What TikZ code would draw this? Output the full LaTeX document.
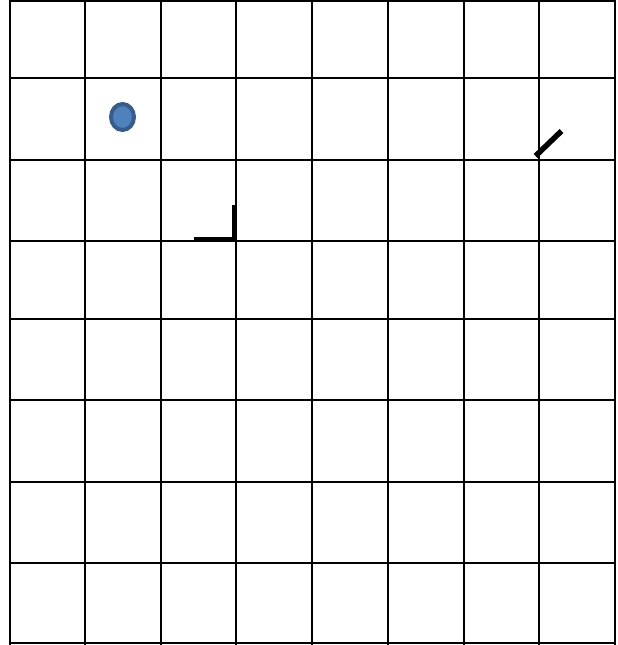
\documentclass[tikz,border=0pt]{standalone}
\begin{document}
\begin{tikzpicture}[x=1pt,y=-1pt,
  gridline/.style={line width=2pt,black},
  markstroke/.style={line width=5.5pt,black},
  dot/.style={draw={rgb,255:red,56;green,93;blue,138},line width=4pt,fill={rgb,255:red,79;green,129;blue,189}}]
\useasboundingbox (0,0) rectangle (618,645);
\foreach \x in {10,85,161,236,312,388,464,539,615}
  \draw[gridline] (\x,0) -- (\x,645);
\foreach \y in {1,78,160,241,319,400,482,563,643}
  \draw[gridline] (9,\y) -- (616,\y);
\draw[dot] (122.5,117) ellipse (11.5pt and 13pt);
\draw[markstroke] (194,239.5) -- (234.5,239.5) -- (234.5,205);
\draw[markstroke] (535.5,156) -- (561.5,131);
\end{tikzpicture}
\end{document}
